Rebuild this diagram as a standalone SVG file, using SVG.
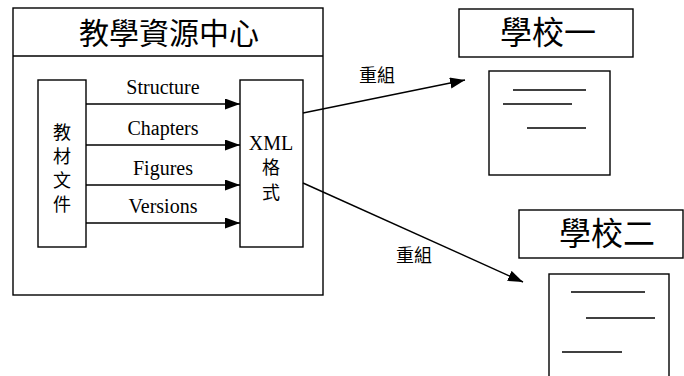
<svg xmlns="http://www.w3.org/2000/svg" width="684" height="376" viewBox="0 0 684 376">
  <style>
    .box { fill: #fff; stroke: #000; stroke-width: 1.4; }
    .ln { stroke: #000; stroke-width: 1.4; fill: none; }
    .cjk { font-family: "Noto Sans CJK TC", "Noto Sans CJK SC", sans-serif; fill: #000; text-anchor: middle; }
    .lat { font-family: "Liberation Serif", "Times New Roman", serif; fill: #000; text-anchor: middle; }
  </style>
  <defs>
    <marker id="arrow" markerUnits="userSpaceOnUse" markerWidth="16" markerHeight="12" refX="15" refY="5.5" orient="auto">
      <path d="M0,0 L15,5.5 L0,11 z" fill="#000"/>
    </marker>
  </defs>
  <rect width="684" height="376" fill="#fff"/>

  <!-- resource centre frame -->
  <g id="center">
    <rect class="box" x="13" y="8" width="310" height="287"/>
    <line class="ln" x1="13" y1="56" x2="323" y2="56"/>
    <text class="cjk" x="169" y="44" font-size="30">教學資源中心</text>
  </g>

  <!-- teaching documents, written vertically -->
  <g id="docs">
    <rect class="box" x="38" y="80" width="48" height="167"/>
    <text class="cjk" x="62" y="139" font-size="18">教</text>
    <text class="cjk" x="62" y="163" font-size="18">材</text>
    <text class="cjk" x="62" y="187" font-size="18">文</text>
    <text class="cjk" x="62" y="211" font-size="18">件</text>
  </g>

  <!-- XML format -->
  <g id="xml">
    <rect class="box" x="240" y="80" width="63" height="167"/>
    <text class="lat" x="271" y="150" font-size="20">XML</text>
    <text class="cjk" x="271" y="174" font-size="18">格</text>
    <text class="cjk" x="271" y="199" font-size="18">式</text>
  </g>

  <!-- school one -->
  <g id="school1">
    <rect class="box" x="459" y="9" width="174" height="48"/>
    <text class="cjk" x="548" y="44" font-size="32">學校一</text>
    <rect class="box" x="489" y="71" width="121" height="104"/>
    <line class="ln" x1="513" y1="90" x2="586" y2="90"/>
    <line class="ln" x1="503" y1="104" x2="572" y2="104"/>
    <line class="ln" x1="527" y1="128" x2="586" y2="128"/>
  </g>

  <!-- school two -->
  <g id="school2">
    <rect class="box" x="519" y="210" width="164" height="48"/>
    <text class="cjk" x="607" y="245" font-size="32">學校二</text>
    <rect class="box" x="549" y="274" width="120" height="110"/>
    <line class="ln" x1="571" y1="292" x2="645" y2="292"/>
    <line class="ln" x1="586" y1="318" x2="655" y2="318"/>
    <line class="ln" x1="562" y1="352" x2="622" y2="352"/>
  </g>

  <!-- connectors -->
  <g id="connectors">
    <line class="ln" x1="86" y1="104" x2="240" y2="104" marker-end="url(#arrow)"/>
    <line class="ln" x1="86" y1="145" x2="240" y2="145" marker-end="url(#arrow)"/>
    <line class="ln" x1="86" y1="185" x2="240" y2="185" marker-end="url(#arrow)"/>
    <line class="ln" x1="86" y1="223" x2="240" y2="223" marker-end="url(#arrow)"/>
    <text class="lat" x="163" y="94" font-size="20">Structure</text>
    <text class="lat" x="163" y="135" font-size="20">Chapters</text>
    <text class="lat" x="163" y="175" font-size="20">Figures</text>
    <text class="lat" x="163" y="213" font-size="20">Versions</text>

    <line class="ln" x1="303" y1="113" x2="465" y2="80" marker-end="url(#arrow)"/>
    <text class="cjk" x="377" y="82" font-size="18">重組</text>
    <line class="ln" x1="303" y1="183" x2="523" y2="282" marker-end="url(#arrow)"/>
    <text class="cjk" x="414" y="262" font-size="18">重組</text>
  </g>
</svg>
